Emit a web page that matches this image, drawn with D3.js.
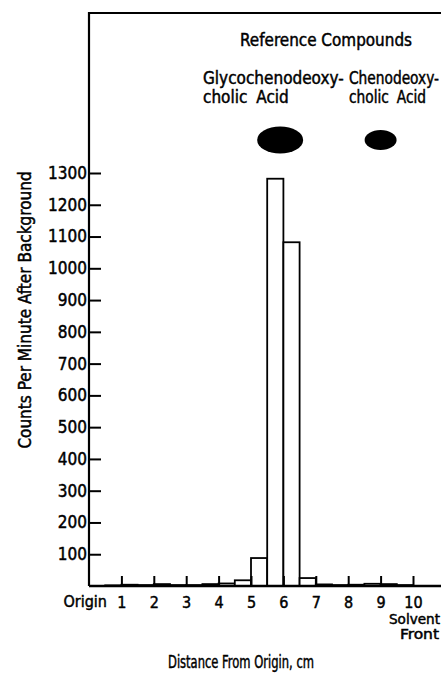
<!DOCTYPE html>
<html>
<head>
<meta charset="utf-8">
<script src="https://cdn.jsdelivr.net/npm/d3@7"></script>
<style>
  html, body { margin: 0; padding: 0; background: #fff; }
  svg { display: block; }
  text { font-family: "DejaVu Sans Condensed", "Liberation Sans Narrow", sans-serif; fill: #000; stroke: #000; stroke-width: 0.45px; }
</style>
</head>
<body>
<div id="chart"></div>
<script>
// histogram bins, 0.5 cm wide, distance from origin (cm)
const binStarts = [0, 0.5, 1, 1.5, 2, 2.5, 3, 3.5, 4, 4.5, 5, 5.5, 6, 6.5, 7, 7.5, 8, 8.5, 9, 9.5]
// counts per minute after background
const counts = [0, 2, 4, 3, 6, 3, 3, 6, 8, 18, 88, 1282, 1082, 25, 5, 3, 4, 7, 6, 3]
const yTicks = [100, 200, 300, 400, 500, 600, 700, 800, 900, 1000, 1100, 1200, 1300]
const xTicks = [1, 2, 3, 4, 5, 6, 7, 8, 9, 10]
// reference compound spots (cm)
const spotNames = ['Glycochenodeoxy-cholic Acid', 'Chenodeoxy-cholic Acid']
const spotPos = [5.9, 9.0]

const W = 441, H = 673
const binWidth = 0.5

const svg = d3.select('#chart').append('svg').attr('width', W).attr('height', H)

const x = d3.scaleLinear().domain([0, 10]).range([89, 413])
const y = d3.scaleLinear().domain([0, 1300]).range([586, 173])

// frame: left axis line and top line
svg.append('path')
  .attr('d', `M${x(0)},${y(0)}V13H${W}`)
  .attr('fill', 'none').attr('stroke', '#000').attr('stroke-width', 2.2)

// bars
const data = binStarts.map((b, i) => ({ x0: b, x1: b + binWidth, v: counts[i] }))
svg.append('g').attr('class', 'bars')
  .selectAll('rect').data(data).enter().append('rect')
  .attr('x', d => x(d.x0))
  .attr('width', d => x(d.x1) - x(d.x0))
  .attr('y', d => y(d.v))
  .attr('height', d => y(0) - y(d.v))
  .attr('fill', '#fff').attr('stroke', '#000').attr('stroke-width', 1.8)

// baseline
svg.append('line')
  .attr('x1', x(0)).attr('x2', W).attr('y1', y(0)).attr('y2', y(0))
  .attr('stroke', '#000').attr('stroke-width', 2.4)

// y axis
const yAxis = svg.append('g').attr('transform', `translate(${x(0)},0)`)
  .call(d3.axisLeft(y).tickValues(yTicks).tickFormat(d3.format('d')).tickSize(-12).tickPadding(2))
yAxis.select('.domain').remove()
yAxis.selectAll('line').attr('stroke', '#000').attr('stroke-width', 2)
yAxis.selectAll('text').attr('font-size', 17).attr('font-family', null).attr('fill', '#000')

// x axis
const xAxis = svg.append('g').attr('transform', `translate(0,${y(0)})`)
  .call(d3.axisBottom(x).tickValues(xTicks).tickSize(-10).tickPadding(11))
xAxis.select('.domain').remove()
xAxis.selectAll('line').attr('stroke', '#000').attr('stroke-width', 2)
xAxis.selectAll('text').attr('font-size', 16).attr('font-family', null).attr('fill', '#000')

svg.append('text').attr('x', 107).attr('y', 607).attr('text-anchor', 'end')
  .attr('font-size', 16).text('Origin')
svg.append('text').attr('x', 440).attr('y', 624).attr('text-anchor', 'end')
  .attr('font-size', 14).attr('textLength', 51).attr('lengthAdjust', 'spacingAndGlyphs').text('Solvent')
svg.append('text').attr('x', 439).attr('y', 639).attr('text-anchor', 'end')
  .attr('font-size', 14).attr('textLength', 39).attr('lengthAdjust', 'spacingAndGlyphs').text('Front')

// axis titles
svg.append('text').attr('x', 168).attr('y', 668)
  .attr('font-size', 17).attr('textLength', 146).attr('lengthAdjust', 'spacingAndGlyphs')
  .text('Distance From Origin, cm')
svg.append('text').attr('transform', 'translate(31,310) rotate(-90)')
  .attr('text-anchor', 'middle').attr('font-size', 17)
  .text('Counts Per Minute After Background')

// reference compounds
svg.append('text').attr('x', 240).attr('y', 46)
  .attr('font-size', 17).attr('textLength', 172).attr('lengthAdjust', 'spacingAndGlyphs')
  .text('Reference  Compounds')

// compound labels, squeezed horizontally like the lettering in the original
const labelX = [203, 349]
const labelScale = [1.0, 0.9]
spotNames.forEach((name, i) => {
  const parts = name.split('-')
  const t = svg.append('text')
    .attr('transform', `translate(${labelX[i]},84) scale(${labelScale[i]},1)`)
    .attr('font-size', 17)
  t.append('tspan').attr('x', 0).text(parts[0] + '-')
  t.append('tspan').attr('x', 0).attr('dy', 19).attr('word-spacing', 4).text(parts[1])
})

const spotR = [[23, 13.5], [16, 10]]
svg.append('g').selectAll('ellipse').data(spotPos).enter().append('ellipse')
  .attr('cx', d => x(d)).attr('cy', 140)
  .attr('rx', (d, i) => spotR[i][0]).attr('ry', (d, i) => spotR[i][1])
  .attr('fill', '#000')
</script>
</body>
</html>
